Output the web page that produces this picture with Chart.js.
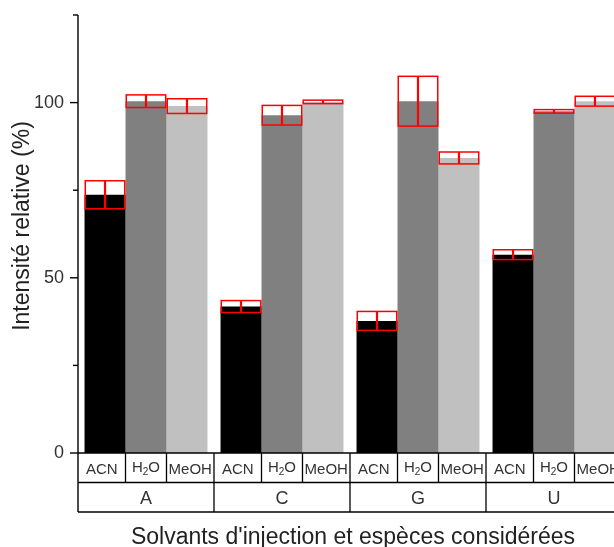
<!DOCTYPE html>
<html>
<head>
<meta charset="utf-8">
<script src="https://cdn.jsdelivr.net/npm/chart.js@4/dist/chart.umd.min.js"></script>
<style>
html,body{margin:0;padding:0;background:#fff;overflow:hidden;}
#wrap{width:640px;height:547px;}
</style>
</head>
<body>
<div id="wrap"><canvas id="c" width="640" height="547"></canvas></div>
<script>
const categories = ['A', 'C', 'G', 'U'];
const solvents = ['ACN', 'H2O', 'MeOH'];
const acn = [73.7, 41.8, 37.7, 56.6];
const acnErr = [4.0, 1.7, 2.7, 1.4];
const h2o = [100.4, 96.4, 100.4, 97.5];
const h2oErr = [1.8, 2.8, 7.1, 0.5];
const meoh = [99.0, 100.2, 84.2, 100.4];
const meohErr = [2.1, 0.5, 1.7, 1.4];
const yTicks = [0, 25, 50, 75, 100, 125];
const yLabels = [0, 50, 100];
const yTitle = 'Intensité relative (%)';
const xTitle = "Solvants d'injection et espèces considérées";

const errors = [acnErr, h2oErr, meohErr];
const FONT = "'Liberation Sans', Arial, sans-serif";

const errorBoxPlugin = {
  id: 'errorBoxes',
  afterDatasetsDraw(chart) {
    const ctx = chart.ctx;
    const y = chart.scales.y;
    ctx.save();
    ctx.strokeStyle = '#ff0000';
    chart.data.datasets.forEach((ds, d) => {
      const meta = chart.getDatasetMeta(d);
      meta.data.forEach((bar, i) => {
        const v = ds.data[i], e = errors[d][i];
        const top = y.getPixelForValue(v + e);
        const bot = y.getPixelForValue(v - e);
        const l = bar.x - bar.width / 2 + 0.75, r = bar.x + bar.width / 2 - 0.75;
        ctx.lineWidth = 1.5;
        ctx.strokeRect(l, top, r - l, bot - top);
        ctx.lineWidth = 2.2;
        ctx.beginPath();
        ctx.moveTo(bar.x, top);
        ctx.lineTo(bar.x, bot);
        ctx.stroke();
      });
    });
    ctx.restore();
  }
};

const axesPlugin = {
  id: 'axesTable',
  afterDraw(chart) {
    const ctx = chart.ctx;
    const x = chart.scales.x, y = chart.scales.y;
    const area = chart.chartArea;
    const W = chart.width;
    const y0 = y.getPixelForValue(0);
    const r1 = y0 + 29.5, r2 = y0 + 59;
    ctx.save();
    ctx.strokeStyle = '#000';
    ctx.lineWidth = 1.4;
    ctx.beginPath();
    ctx.moveTo(area.left, y.getPixelForValue(125));
    ctx.lineTo(area.left, r2);
    ctx.stroke();
    yTicks.forEach(v => {
      const p = y.getPixelForValue(v);
      const len = yLabels.includes(v) ? 8 : 5;
      ctx.beginPath();
      ctx.moveTo(area.left - len, p);
      ctx.lineTo(area.left, p);
      ctx.stroke();
    });
    ctx.lineWidth = 1.3;
    [y0, r1, r2].forEach(p => {
      ctx.beginPath();
      ctx.moveTo(area.left, p);
      ctx.lineTo(W, p);
      ctx.stroke();
    });
    const m0 = chart.getDatasetMeta(0).data;
    const m1 = chart.getDatasetMeta(1).data;
    const m2 = chart.getDatasetMeta(2).data;
    const half = (x.getPixelForValue(1) - x.getPixelForValue(0)) / 2;
    categories.forEach((c, i) => {
      const gl = x.getPixelForValue(i) - half;
      const gr = x.getPixelForValue(i) + half;
      const d1 = m0[i].x + m0[i].width / 2;
      const d2 = m1[i].x + m1[i].width / 2;
      [d1, d2].forEach(px => {
        ctx.beginPath(); ctx.moveTo(px, y0); ctx.lineTo(px, r1); ctx.stroke();
      });
      ctx.beginPath(); ctx.moveTo(gr, y0); ctx.lineTo(gr, r2); ctx.stroke();
      ctx.fillStyle = '#333';
      ctx.font = '18px ' + FONT;
      ctx.textAlign = 'center';
      ctx.textBaseline = 'alphabetic';
      ctx.fillText(c, x.getPixelForValue(i), y0 + 51);
      const centers = [(gl + d1) / 2, (d1 + d2) / 2, (d2 + gr) / 2];
      centers.forEach((cx, k) => {
        const s = solvents[k];
        ctx.font = '15px ' + FONT;
        if (s === 'H2O') {
          const wH = ctx.measureText('H').width, wO = ctx.measureText('O').width;
          ctx.font = '10px ' + FONT;
          const w2 = ctx.measureText('2').width;
          const tot = wH + w2 + wO;
          const sx = cx - tot / 2;
          ctx.textAlign = 'left';
          ctx.font = '15px ' + FONT;
          ctx.fillText('H', sx, y0 + 19);
          ctx.font = '10px ' + FONT;
          ctx.fillText('2', sx + wH, y0 + 22);
          ctx.font = '15px ' + FONT;
          ctx.fillText('O', sx + wH + w2, y0 + 19);
        } else {
          ctx.textAlign = 'center';
          ctx.fillText(s, cx, y0 + 21);
        }
      });
    });
    ctx.fillStyle = '#222';
    ctx.font = '23px ' + FONT;
    ctx.textAlign = 'center';
    ctx.textBaseline = 'alphabetic';
    ctx.fillText(xTitle, 353, 544);
    ctx.save();
    ctx.translate(23, 226);
    ctx.rotate(-Math.PI / 2);
    ctx.textBaseline = 'middle';
    ctx.fillText(yTitle, 0, 0);
    ctx.restore();
    ctx.restore();
  }
};

new Chart(document.getElementById('c'), {
  type: 'bar',
  data: {
    labels: categories,
    datasets: [
      { label: 'ACN', data: acn, backgroundColor: '#000000' },
      { label: 'H2O', data: h2o, backgroundColor: '#808080' },
      { label: 'MeOH', data: meoh, backgroundColor: '#c0c0c0' }
    ]
  },
  options: {
    responsive: false,
    devicePixelRatio: 1,
    animation: false,
    layout: { padding: { left: 0, top: 15, right: 18, bottom: 94 } },
    datasets: { bar: { categoryPercentage: 0.904, barPercentage: 1, borderWidth: 0 } },
    plugins: { legend: { display: false }, tooltip: { enabled: false } },
    scales: {
      x: { display: false },
      y: {
        min: 0, max: 125,
        afterFit(scale) { scale.width = 78; scale.paddingTop = 0; scale.paddingBottom = 0; },
        grid: { display: false, drawTicks: false },
        border: { display: false },
        ticks: {
          stepSize: 25,
          padding: 14,
          color: '#333',
          font: { size: 18, family: FONT },
          callback: v => yLabels.includes(v) ? String(v) : ''
        }
      }
    }
  },
  plugins: [errorBoxPlugin, axesPlugin]
});
</script>
</body>
</html>
